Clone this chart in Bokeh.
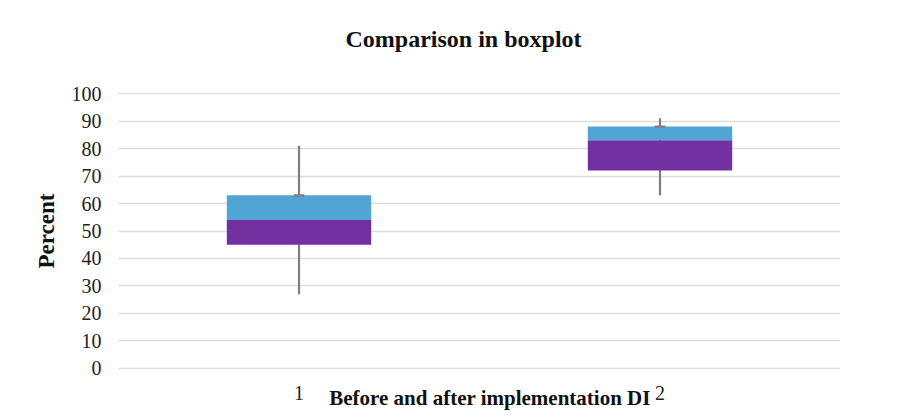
from bokeh.plotting import figure
from bokeh.models import Range1d, FixedTicker, Title, ColumnDataSource
from bokeh.embed import file_html
from bokeh.resources import INLINE

groups = [1, 2]
group_labels = ["1", "2"]
lower_whisker = [27, 63]
q1 = [45, 72]
median = [54, 83]
q3 = [63, 88]
upper_whisker = [81, 91]
y_ticks = [0, 10, 20, 30, 40, 50, 60, 70, 80, 90, 100]

FONT = "Liberation Serif"

src = ColumnDataSource(dict(x=groups, lo=lower_whisker, q1=q1, med=median, q3=q3, hi=upper_whisker))

p = figure(width=896, height=412, output_backend="svg", toolbar_location=None,
           x_range=Range1d(0.5, 2.5), y_range=Range1d(-0.4, 100.4),
           min_border_left=118, min_border_right=56, min_border_top=92, min_border_bottom=43)
p.outline_line_color = None
p.background_fill_color = "white"
p.border_fill_color = "white"

# spacer between the title and the plot frame
p.add_layout(Title(text=" ", text_font_size="10px", standoff=28), "above")
t = Title(text="Comparison in boxplot", align="left", text_font=FONT,
          text_font_size="24px", text_font_style="bold", text_color="#111111",
          offset=227, standoff=0)
p.add_layout(t, "above")

# whiskers
p.segment(x0="x", y0="lo", x1="x", y1="hi", source=src, line_color="#7f7f7f", line_width=2.2)
# boxes
p.vbar(x="x", width=0.4, bottom="q1", top="med", source=src, fill_color="#7330a0", line_color=None)
p.vbar(x="x", width=0.4, bottom="med", top="q3", source=src, fill_color="#50a5d4", line_color=None)
# cap at upper quartile
p.rect(x="x", y="q3", width=0.03, height=0.8, source=src, fill_color="#7f7f7f", line_color=None)

# axes
p.yaxis.ticker = FixedTicker(ticks=y_ticks)
p.yaxis.axis_line_color = None
p.yaxis.major_tick_line_color = None
p.yaxis.minor_tick_line_color = None
p.yaxis.major_label_text_font = FONT
p.yaxis.major_label_text_font_size = "20px"
p.yaxis.major_label_text_color = "#222222"
p.yaxis.major_label_standoff = 11
p.yaxis.axis_label = "Percent"
p.yaxis.axis_label_text_font = FONT
p.yaxis.axis_label_text_font_size = "23px"
p.yaxis.axis_label_text_font_style = "bold"
p.yaxis.axis_label_text_color = "#111111"
p.yaxis.axis_label_standoff = 10

p.xaxis.ticker = FixedTicker(ticks=groups)
p.xaxis.major_label_overrides = {g: l for g, l in zip(groups, group_labels)}
p.xaxis.axis_line_color = None
p.xaxis.major_tick_line_color = None
p.xaxis.minor_tick_line_color = None
p.xaxis.major_label_text_font = FONT
p.xaxis.major_label_text_font_size = "20px"
p.xaxis.major_label_text_color = "#222222"
p.xaxis.major_label_standoff = 10
p.xaxis.axis_label = "\u00a0\u00a0\u00a0\u00a0Before and after implementation DI"
p.xaxis.axis_label_text_font = FONT
p.xaxis.axis_label_text_font_size = "21px"
p.xaxis.axis_label_text_font_style = "bold"
p.xaxis.axis_label_text_color = "#111111"
p.xaxis.axis_label_standoff = -17

p.xgrid.grid_line_color = None
p.ygrid.ticker = FixedTicker(ticks=y_ticks)
p.ygrid.grid_line_color = "#dedede"
p.ygrid.grid_line_width = 1.5

open("out.html", "w").write(file_html(p, INLINE))
